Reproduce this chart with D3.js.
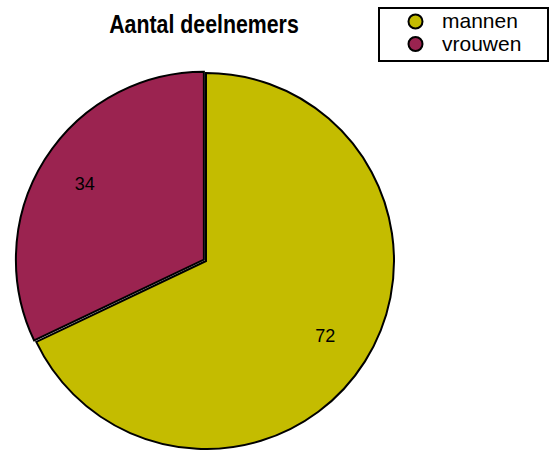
<!DOCTYPE html>
<html><head><meta charset="utf-8">
<script src="https://cdn.jsdelivr.net/npm/d3@7"></script>
<style>body{margin:0;background:#fff}</style>
</head><body>
<script>
const categories = ["mannen", "vrouwen"];
const values = [72, 34];
const colors = ["#c4bc00", "#9b2350"];
const title = "Aantal deelnemers";

const W = 549, H = 450;
const svg = d3.select("body").append("svg").attr("width", W).attr("height", H)
  .style("font-family", "'Liberation Sans', Arial, sans-serif");

const cx = 206, cy = 261, r = 188;
const pie = d3.pie().sort(null).value(d => d)(values);
const arc = d3.arc().innerRadius(0).outerRadius(r);
const explode = [0, 2.5];

const g = svg.append("g").attr("transform", `translate(${cx},${cy})`);
g.selectAll("path").data(pie).join("path")
  .attr("d", arc)
  .attr("fill", (d, i) => colors[i])
  .attr("stroke", "#000").attr("stroke-width", 2).attr("stroke-linejoin", "miter")
  .attr("transform", (d, i) => {
    const a = (d.startAngle + d.endAngle) / 2;
    return `translate(${Math.sin(a) * explode[i]},${-Math.cos(a) * explode[i]})`;
  });

const labelR = 141;
g.selectAll("text.lbl").data(pie).join("text").attr("class", "lbl")
  .attr("x", (d, i) => { const a = (d.startAngle + d.endAngle) / 2; return Math.sin(a) * (labelR + explode[i]); })
  .attr("y", (d, i) => { const a = (d.startAngle + d.endAngle) / 2; return -Math.cos(a) * (labelR + explode[i]) + 6; })
  .attr("text-anchor", "middle")
  .attr("font-size", 18).attr("fill", "#000")
  .text(d => d.data);

svg.append("text").attr("x", 204).attr("y", 33).attr("text-anchor", "middle")
  .attr("font-size", 26).attr("font-weight", "bold")
  .attr("transform", "translate(204,0) scale(0.82,1) translate(-204,0)")
  .text(title);

const lg = svg.append("g");
lg.append("rect").attr("x", 379).attr("y", 8).attr("width", 169).attr("height", 53)
  .attr("fill", "#fff").attr("stroke", "#000").attr("stroke-width", 2);
categories.forEach((c, i) => {
  lg.append("circle").attr("cx", 415.5).attr("cy", 21.5 + i * 22.5).attr("r", 7)
    .attr("fill", colors[i]).attr("stroke", "#000").attr("stroke-width", 2);
  lg.append("text").attr("x", 442).attr("y", 28 + i * 22.5)
    .attr("font-size", 21).text(c);
});
</script>
</body></html>
